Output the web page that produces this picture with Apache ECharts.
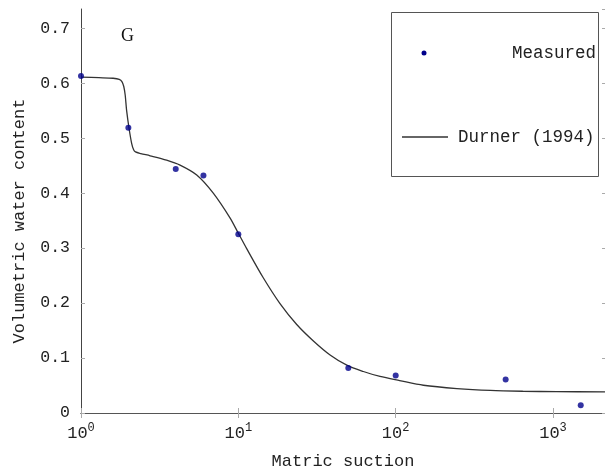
<!DOCTYPE html>
<html><head><meta charset="utf-8">
<script src="https://cdn.jsdelivr.net/npm/echarts@6/dist/echarts.min.js"></script>
<style>html,body{margin:0;padding:0;background:#fff}#c{width:605px;height:473px}</style>
</head><body><div id="c"></div>
<script>
// Measured points
const measuredX = [1, 2, 4, 6, 10, 50, 100, 500, 1500];
const measuredY = [0.613, 0.519, 0.444, 0.432, 0.325, 0.082, 0.068, 0.061, 0.014];
// Durner (1994) fitted curve
const curveX = [1, 1.3, 1.6, 1.75, 1.82, 1.87, 1.91, 1.95, 2.02, 2.1, 2.16, 2.22, 2.4, 2.75, 3.5, 4.26, 5.44, 6.93, 8.85, 10, 11.3, 14.4, 18.4, 23.5, 30, 38.3, 48.9, 62.3, 79.5, 106, 150, 245, 400, 650, 1050, 2140];
const curveY = [0.611, 0.610, 0.609, 0.607, 0.603, 0.594, 0.578, 0.550, 0.518, 0.490, 0.479, 0.475, 0.472, 0.468, 0.460, 0.451, 0.433, 0.400, 0.355, 0.327, 0.299, 0.246, 0.199, 0.161, 0.131, 0.1055, 0.087, 0.0755, 0.0665, 0.059, 0.0505, 0.0445, 0.041, 0.0395, 0.0388, 0.0385];
const yTickValues = [0, 0.1, 0.2, 0.3, 0.4, 0.5, 0.6, 0.7];
const xMin = 1, xMax = 2140, yMin = 0, yMax = 0.735;

const FONT = 'Liberation Mono';
const TXT = '#222';
const chart = echarts.init(document.getElementById('c'));
const isPow10 = v => Math.abs(Math.log10(v) - Math.round(Math.log10(v))) < 1e-6;

chart.setOption({
  animation: false,
  backgroundColor: '#fff',
  grid: { left: 81, top: 9, right: 0, bottom: 60, containLabel: false, outerBoundsMode: 'none' },
  xAxis: [{
    type: 'log', logBase: 10, min: xMin, max: xMax,
    name: 'Matric suction', nameLocation: 'middle', nameGap: 40,
    nameTextStyle: { fontFamily: FONT, fontSize: 17, color: TXT },
    axisLine: { lineStyle: { color: '#444', width: 1 } },
    axisTick: { inside: true, length: 5, lineStyle: { color: '#aaa' } },
    minorTick: { show: false },
    splitLine: { show: false },
    axisLabel: {
      showMaxLabel: false, margin: 11,
      formatter: v => isPow10(v) ? '{b|10}{s|' + Math.round(Math.log10(v)) + '}' : '',
      rich: {
        b: { fontFamily: FONT, fontSize: 17, color: TXT, verticalAlign: 'bottom', lineHeight: 18 },
        s: { fontFamily: FONT, fontSize: 12, color: TXT, verticalAlign: 'bottom', padding: [0, 0, 8, 0], lineHeight: 12 }
      }
    }
  }, {
    type: 'log', logBase: 10, min: xMin, max: xMax, position: 'top',
    axisLine: { lineStyle: { color: '#555', width: 1 } },
    axisTick: { inside: true, length: 5, lineStyle: { color: '#aaa' } },
    axisLabel: { show: false }, splitLine: { show: false }
  }],
  yAxis: [{
    type: 'value', min: yMin, max: yMax, interval: 0.1,
    name: 'Volumetric water content', nameLocation: 'middle', nameGap: 53,
    nameTextStyle: { fontFamily: FONT, fontSize: 17, color: TXT, padding: [0, 20, 0, 0] },
    axisLine: { show: true, lineStyle: { color: '#444', width: 1 } },
    axisTick: { show: true, inside: true, length: 4, lineStyle: { color: '#aaa' } },
    splitLine: { show: false },
    axisLabel: {
      showMaxLabel: false, margin: 11, fontFamily: FONT, fontSize: 16.5, color: TXT,
      formatter: v => yTickValues.some(t => Math.abs(t - v) < 1e-9) ? (v === 0 ? '0' : v.toFixed(1)) : ''
    }
  }, {
    type: 'value', min: yMin, max: yMax, interval: 0.1, position: 'right',
    axisLine: { show: false },
    axisTick: { show: true, inside: true, length: 3, lineStyle: { color: '#aaa' } },
    axisLabel: { show: false }, splitLine: { show: false }
  }],
  series: [{
    name: 'Durner (1994)', type: 'line', xAxisIndex: 0, yAxisIndex: 0,
    data: curveX.map((x, i) => [x, curveY[i]]),
    showSymbol: false, smooth: 0.3,
    lineStyle: { color: '#333', width: 1.3 }, z: 2
  }, {
    name: 'Measured', type: 'scatter', xAxisIndex: 0, yAxisIndex: 0,
    data: measuredX.map((x, i) => [x, measuredY[i]]),
    symbol: 'circle', symbolSize: 6,
    itemStyle: { color: '#00008b' }, z: 3
  }],
  graphic: [
    { type: 'text', left: 121, top: 27, style: { text: 'G', font: '18px "Liberation Serif"', fill: '#111' } },
    { type: 'rect', shape: { x: 391.5, y: 12.5, width: 207, height: 164 }, style: { fill: '#fff', stroke: '#555', lineWidth: 1 }, z: 10 },
    { type: 'circle', shape: { cx: 424, cy: 53, r: 2.5 }, style: { fill: '#00008b' }, z: 11 },
    { type: 'text', x: 596, y: 53, style: { text: 'Measured', font: '17.5px "Liberation Mono"', fill: TXT, textAlign: 'right', textVerticalAlign: 'middle' }, z: 11 },
    { type: 'line', shape: { x1: 402, y1: 137, x2: 448, y2: 137 }, style: { stroke: '#333', lineWidth: 1.3 }, z: 11 },
    { type: 'text', x: 458, y: 137, style: { text: 'Durner (1994)', font: '17.5px "Liberation Mono"', fill: TXT, textAlign: 'left', textVerticalAlign: 'middle' }, z: 11 }
  ]
});
</script></body></html>
